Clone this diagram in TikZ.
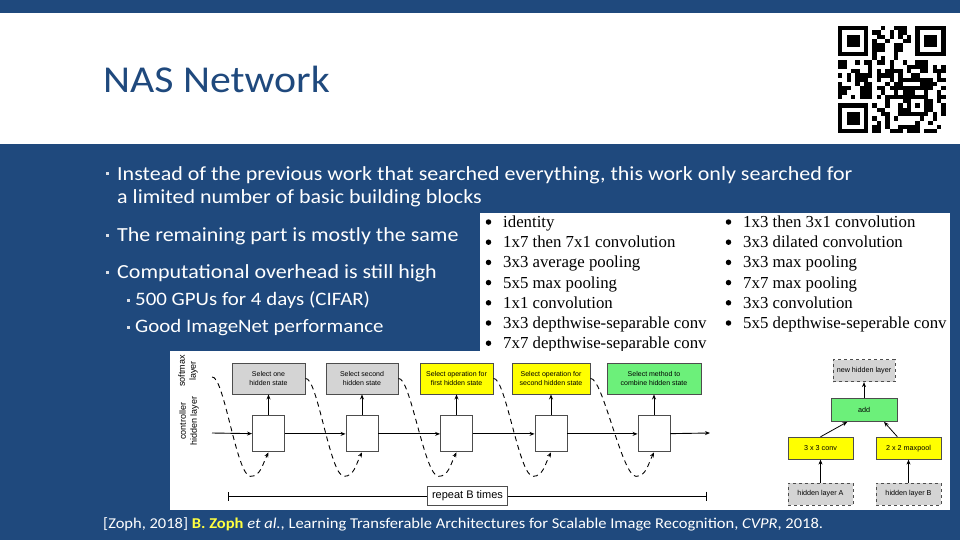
\documentclass[tikz,border=0pt]{standalone}
\usepackage{fontspec}
\setmainfont{Carlito}[FakeStretch=1.1]
\newfontfamily\opsfont{Liberation Serif}
\newfontfamily\figfont{Liberation Sans}
\usetikzlibrary{arrows.meta, positioning, calc}
\definecolor{slideblue}{HTML}{1F497D}
\definecolor{markgray}{HTML}{D9DEE6}
\definecolor{cellgray}{HTML}{D4D4D4}
\definecolor{cellyellow}{HTML}{FFFF00}
\definecolor{cellgreen}{HTML}{6CF07A}
\definecolor{edgegray}{HTML}{4D4D4D}
\definecolor{citeyellow}{HTML}{FFFF40}

\begin{document}
\begin{tikzpicture}[
    x=1pt, y=-1pt,
    >={Stealth[length=5pt,width=4pt]},
    bodytext/.style={anchor=base west, inner sep=0pt, text=white,
                     font=\fontsize{20}{24}\selectfont},
    subtext/.style={anchor=base west, inner sep=0pt, text=white,
                    font=\fontsize{19}{22}\selectfont},
    marker/.style={fill=markgray, inner sep=0pt, minimum size=3pt},
    opline/.style={anchor=base west, inner sep=0pt,
                   font=\opsfont\fontsize{16.8}{20}\selectfont},
    opdot/.style={circle, fill=black, inner sep=0pt, minimum size=5.5pt},
    cell/.style={draw=edgegray, line width=0.9pt, inner sep=0pt, minimum height=31pt,
                 align=center, font=\figfont\fontsize{7}{9}\selectfont},
    hiddensq/.style={draw=edgegray, line width=0.9pt, fill=white, inner sep=0pt,
                     minimum width=32pt, minimum height=36pt},
    treebox/.style={draw=edgegray, line width=0.8pt, inner sep=0pt, minimum width=65pt,
                    minimum height=22pt, font=\figfont\fontsize{7.2}{9}\selectfont},
    ghost/.style={treebox, dashed, fill=cellgray},
    link/.style={draw=black, line width=0.9pt, ->},
    recur/.style={draw=black, line width=0.9pt, dash pattern=on 5pt off 4pt, ->}
]
  % Slide background
  \useasboundingbox (0,0) rectangle (960,540);
  \fill[slideblue] (0,0) rectangle (960,13);
  \fill[slideblue] (0,144) rectangle (960,540);

  % Title
  \node[anchor=base west, inner sep=0pt, text=slideblue,
        font=\fontsize{38}{46}\selectfont] (ttl) at (103,93) {NAS Network};

  % QR code
  \foreach \fx/\fy in {0/0,18/0,0/18} {
    \fill[black] (838+\fx*4.3,26+\fy*4.3) rectangle +(30.1,30.1);
    \fill[white] (842.3+\fx*4.3,30.3+\fy*4.3) rectangle +(21.5,21.5);
    \fill[black] (846.6+\fx*4.3,34.6+\fy*4.3) rectangle +(12.9,12.9);
  }
  \fill[black] (838+16*4.3,26+16*4.3) rectangle +(21.5,21.5);
  \fill[white] (838+17*4.3,26+17*4.3) rectangle +(12.9,12.9);
  \fill[black] (838+18*4.3,26+18*4.3) rectangle +(4.3,4.3);
  \pgfmathsetseed{2018}
  \foreach \i in {0,...,24} {
    \foreach \j in {0,...,24} {
      \pgfmathtruncatemacro\qrskip{((\i<8)&&(\j<8)) || ((\i>16)&&(\j<8)) || ((\i<8)&&(\j>16)) || ((\i>15)&&(\i<21)&&(\j>15)&&(\j<21))}
      \pgfmathrandominteger{\qrbit}{0}{1}
      \ifnum\qrskip=0 \ifnum\qrbit=1 \fill[black] (838+\i*4.3,26+\j*4.3) rectangle +(4.3,4.3); \fi\fi
    }
  }

  % Bullet points
  \node[marker] (m1) at (107,174) {};
  \node[bodytext] (pt1)  at (117,180) {Instead of the previous work that searched everything, this work only searched for};
  \node[bodytext] (pt1b) at (117,203.5) {a limited number of basic building blocks};
  \node[marker] (m2) at (107,235) {};
  \node[bodytext] (pt2)  at (117,241.5) {The remaining part is mostly the same};
  \node[marker] (m3) at (107,272) {};
  \node[bodytext] (pt3)  at (117,278) {Computational overhead is still high};
  \node[marker] (m4) at (128,300) {};
  \node[subtext] (sub1)  at (135,305) {500 GPUs for 4 days (CIFAR)};
  \node[marker] (m5) at (128,327) {};
  \node[subtext] (sub2)  at (135,332.5) {Good ImageNet performance};

  % Operation list
  \fill[white] (480,213) rectangle (950,352);
  \begin{scope}
    \clip (480,213) rectangle (950,352);
    \foreach \op [count=\k from 0] in {identity, 1x7 then 7x1 convolution,
        3x3 average pooling, 5x5 max pooling, 1x1 convolution,
        3x3 depthwise-separable conv, 7x7 depthwise-separable conv} {
      \node[opdot] (dl\k) at (488.5,222+20.2*\k) {};
      \node[opline] (opl\k) at (503,227.5+20.2*\k) {\op};
    }
    \foreach \op [count=\k from 0] in {1x3 then 3x1 convolution, 3x3 dilated convolution,
        3x3 max pooling, 7x7 max pooling, 3x3 convolution,
        5x5 depthwise-seperable conv} {
      \node[opdot] (dr\k) at (728.5,222+20.2*\k) {};
      \node[opline] (opr\k) at (743,227.5+20.2*\k) {\op};
    }
  \end{scope}

  % Controller figure
  \fill[white] (170,351) rectangle (950,510);
  \node[rotate=90, align=center, inner sep=0pt,
        font=\figfont\fontsize{9}{11}\selectfont] (smx) at (188,371) {softmax\\layer};
  \node[rotate=90, align=center, inner sep=0pt,
        font=\figfont\fontsize{9}{11}\selectfont] (ctl) at (189,421) {controller\\hidden layer};

  \node[cell, fill=cellgray,   minimum width=73pt] (c1) at (268.5,378.5) {Select one\\hidden state};
  \node[cell, fill=cellgray,   minimum width=72pt] (c2) at (362,378.5)   {Select second\\hidden state};
  \node[cell, fill=cellyellow, minimum width=73pt] (c3) at (456.5,378.5) {Select operation for\\first hidden state};
  \node[cell, fill=cellyellow, minimum width=78pt] (c4) at (551,378.5)   {Select operation for\\second hidden state};
  \node[cell, fill=cellgreen,  minimum width=94pt] (c5) at (654,378.5)   {Select method to\\combine hidden state};
  \foreach \k in {1,...,5}
    \node[hiddensq, below=21pt of c\k] (h\k) {};

  \coordinate (inL)  at (212,433);
  \coordinate (outR) at (710,433);
  \coordinate (feed) at (212,377);
  \draw[link] (inL) -- (h1);
  \foreach \a/\b in {1/2,2/3,3/4,4/5}
    \draw[link] (h\a) -- (h\b);
  \draw[link] (h5) -- (outR);
  \foreach \k in {1,...,5}
    \draw[link] (h\k) -- (c\k);

  % Recurrent feedback
  \draw[recur] (feed) .. controls +(12,-2) and +(-14,0) .. ($(h1.south)+(-18,24)$)
    .. controls +(10,0) and +(-6,12) .. (h1.south);
  \foreach \a/\b in {1/2,2/3,3/4,4/5}
    \draw[recur] (c\a.east) .. controls +(12,-2) and +(-14,0) .. ($(h\b.south)+(-18,24)$)
      .. controls +(10,0) and +(-6,12) .. (h\b.south);

  % Repeat bar
  \node[draw=edgegray, line width=0.8pt, fill=white, minimum width=80pt, minimum height=19pt,
        inner sep=0pt, font=\figfont\fontsize{11}{13}\selectfont] (rep) at (467.5,496) {repeat B times};
  \coordinate (repL) at (228,496);
  \coordinate (repR) at (707,496);
  \draw[line width=0.9pt, {Bar[width=9pt]}-] (repL) -- (rep);
  \draw[line width=0.9pt, -{Bar[width=9pt]}] (rep) -- (repR);

  % Cell tree
  \node[ghost] (hA) at (820.5,494) {hidden layer A};
  \node[ghost] (hB) at (908.5,494) {hidden layer B};
  \node[treebox, fill=cellyellow, above=23pt of hA] (conv) {3 x 3 conv};
  \node[treebox, fill=cellyellow, above=23pt of hB] (pool) {2 x 2 maxpool};
  \node[treebox, fill=cellgreen, minimum width=66pt, minimum height=23pt] (add) at (864,410) {add};
  \node[ghost, minimum width=62pt, above=16pt of add] (newh) {new hidden layer};
  \draw[link, line width=0.8pt] (hA) -- (conv);
  \draw[link, line width=0.8pt] (hB) -- (pool);
  \draw[link, line width=0.8pt] (conv.north) -- ($(add.south)!0.5!(add.south west)$);
  \draw[link, line width=0.8pt] (pool.north -| add.east) -- ($(add.south)!0.6!(add.south east)$);
  \draw[link, line width=0.8pt] (add) -- (newh);

  % Citation
  \node[anchor=base west, inner sep=0pt, text=white, font=\fontsize{15}{17}\selectfont] (cite) at (103,528)
    {[Zoph, 2018] \textcolor{citeyellow}{\bfseries B. Zoph} \emph{et al.}, Learning Transferable Architectures for Scalable Image Recognition, \emph{CVPR}, 2018.};
\end{tikzpicture}
\end{document}
